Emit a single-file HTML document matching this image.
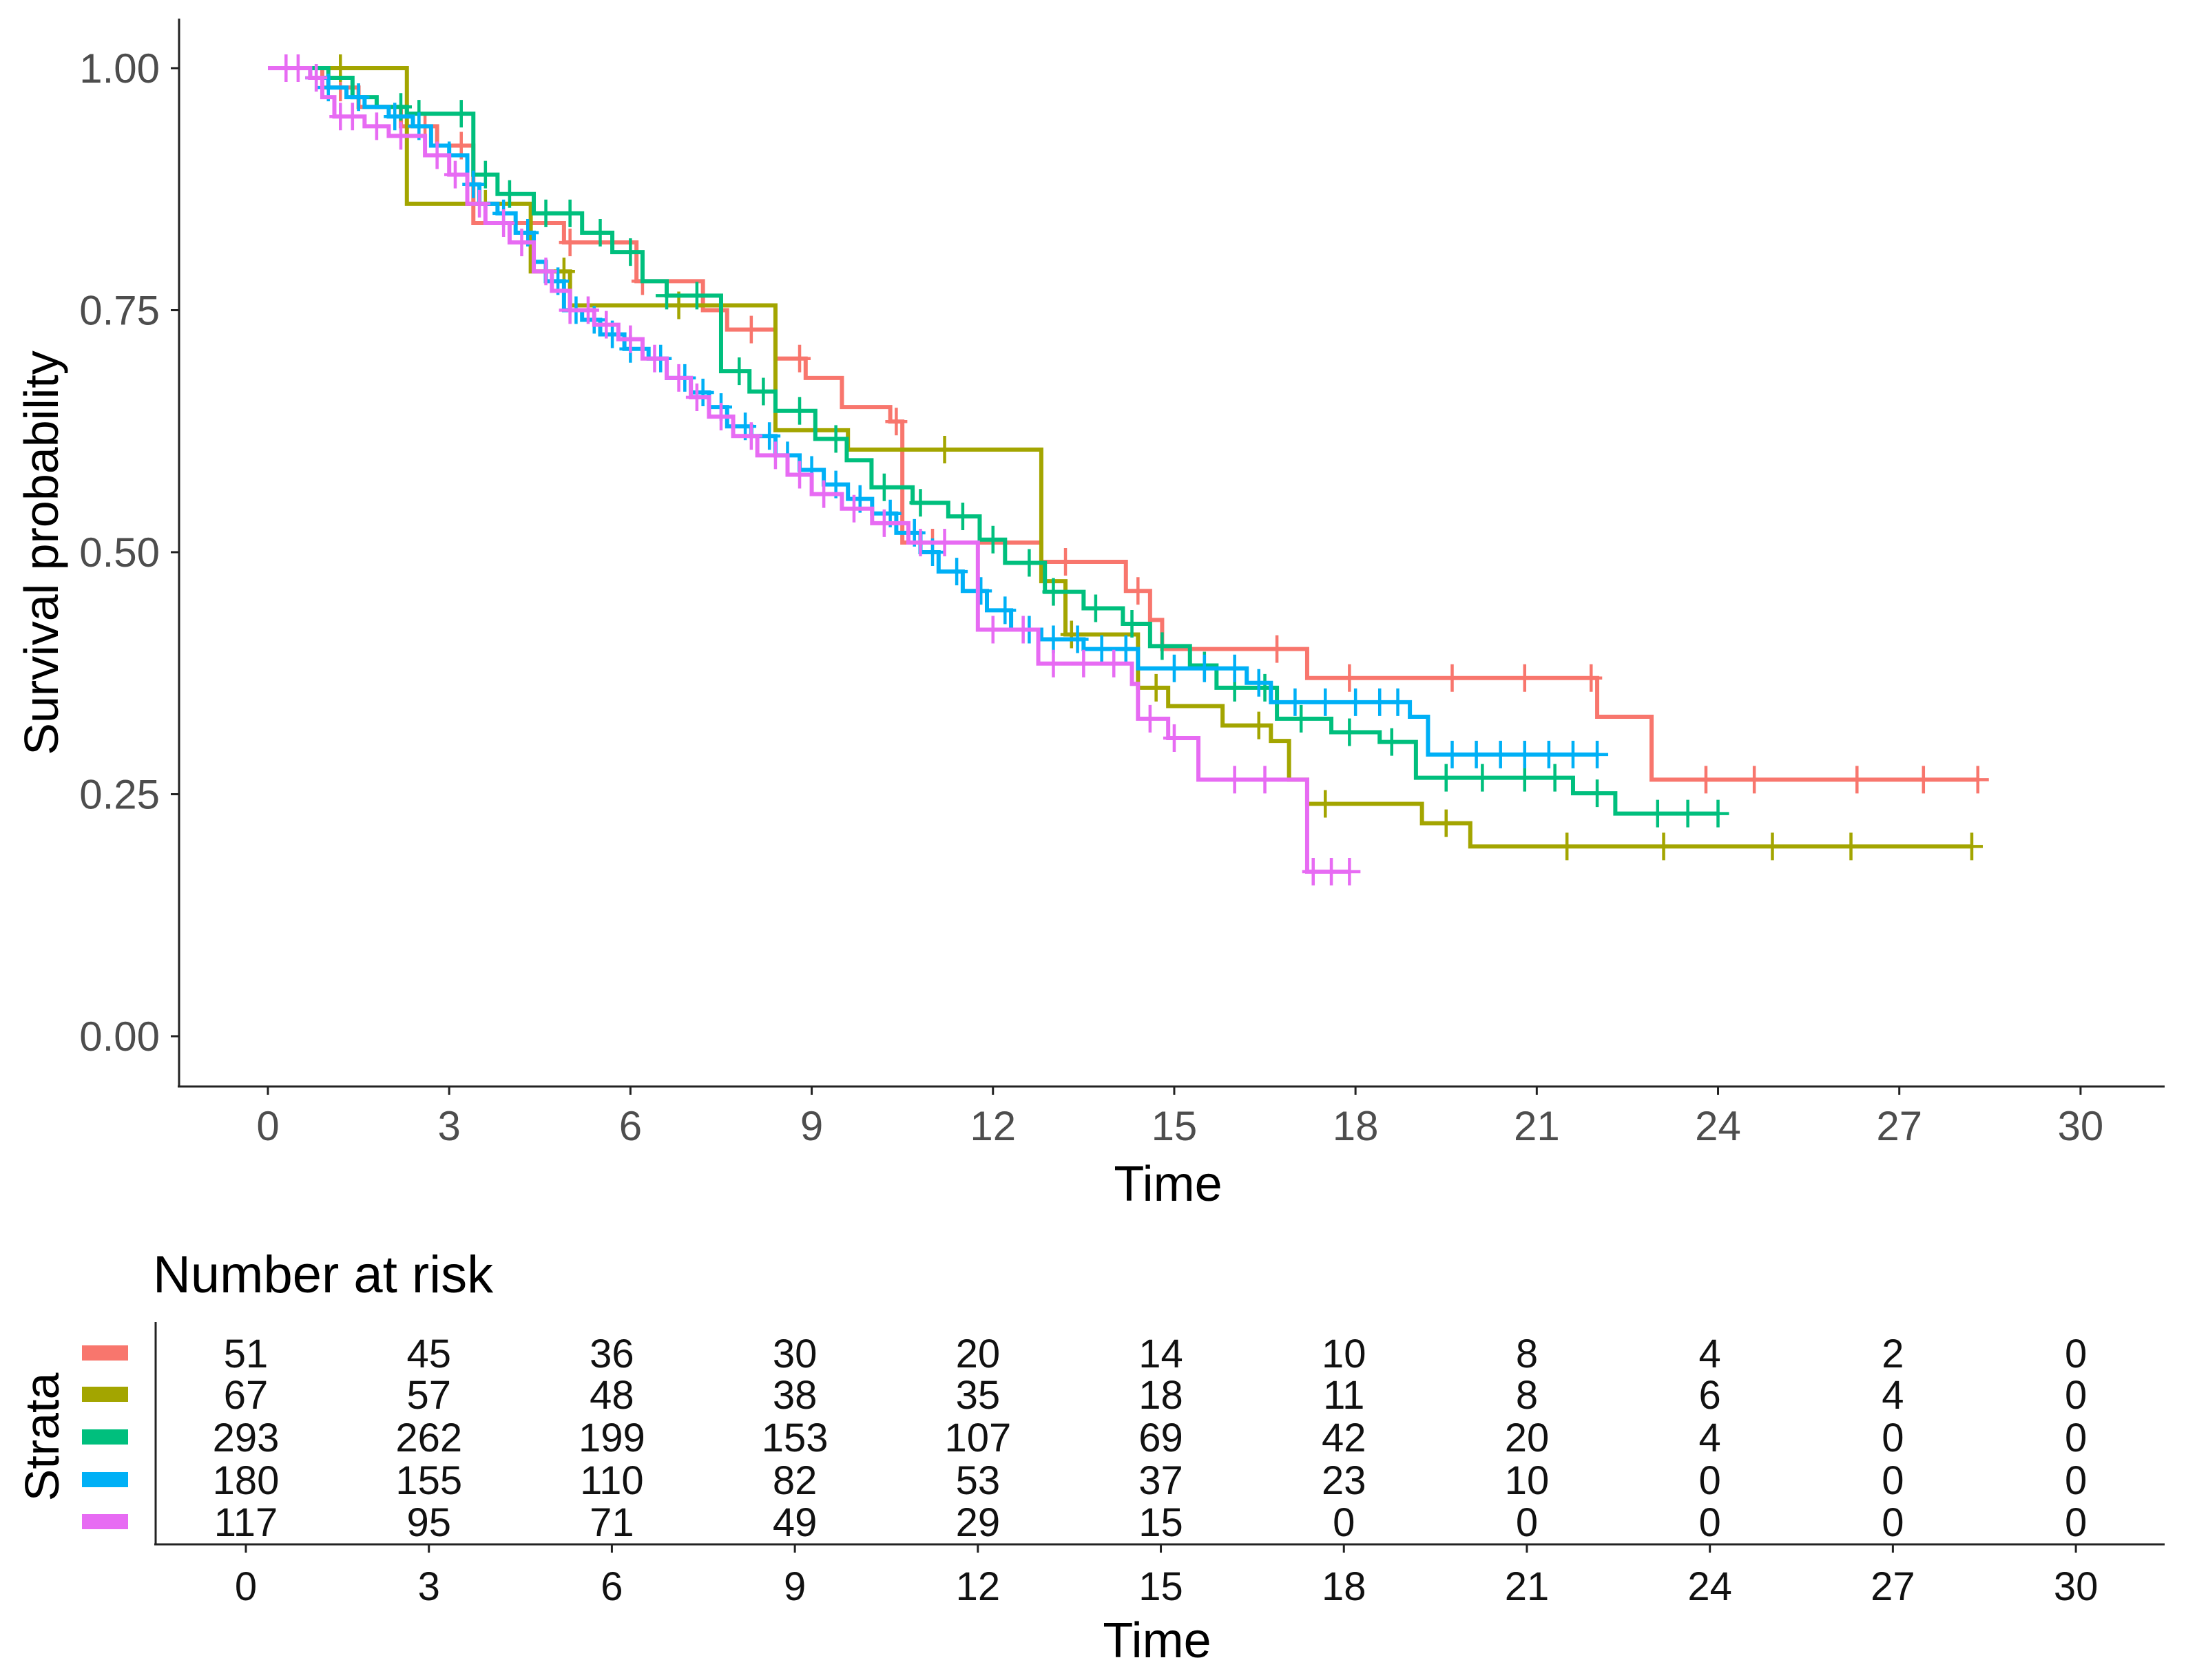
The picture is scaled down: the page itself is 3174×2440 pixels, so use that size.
<!DOCTYPE html>
<html><head><meta charset="utf-8"><style>
html,body{margin:0;padding:0;background:#fff;}
svg{display:block;font-family:"Liberation Sans",Arial,sans-serif;}
</style></head><body>
<svg id="chart" width="3174" height="2440" viewBox="0 0 3174 2440" xmlns="http://www.w3.org/2000/svg">
<rect width="3174" height="2440" fill="#fff"/>
<g id="plot"></g>
<g id="risk"></g>
</svg>
<script>
const colors=["#F8766D","#A3A500","#00BF7D","#00B0F6","#E76BF3"];
const xTicks=[0,3,6,9,12,15,18,21,24,27,30];
const yTicks=[0,0.25,0.5,0.75,1];
const yTickLabels=["0.00","0.25","0.50","0.75","1.00"];
const redTimes=[0,0.9,1.5,2.2,2.8,3.4,4.9,6.1,7.2,7.6,8.4,8.9,9.5,10.3,10.5,12.8,14.2,14.6,14.8,17.2,22.0,22.9];
const redSurv=[1,0.98,0.96,0.94,0.92,0.84,0.82,0.78,0.75,0.73,0.70,0.68,0.65,0.635,0.51,0.49,0.46,0.43,0.40,0.37,0.33,0.265];
const redCensor=[1.2,2.6,3.2,5.0,6.2,8.0,8.8,10.4,11.0,13.2,14.4,16.7,17.9,19.6,20.8,21.9,23.8,24.6,26.3,27.4,28.3];
const oliveTimes=[0,2.3,4.35,5.0,8.4,9.6,12.8,13.2,14.4,14.9,15.8,16.6,16.9,17.2,19.1,19.9];
const oliveSurv=[1,0.86,0.79,0.755,0.626,0.606,0.47,0.415,0.36,0.341,0.321,0.305,0.265,0.24,0.22,0.196];
const oliveCensor=[1.2,3.6,4.9,6.8,11.2,13.3,14.7,16.4,17.5,19.5,21.5,23.1,24.9,26.2,28.2];
const greenTimes=[0,1.0,1.4,1.8,2.3,3.4,3.8,4.4,5.2,5.7,6.2,6.6,7.5,7.97,8.4,9.06,9.58,9.99,10.67,11.26,11.78,12.2,12.86,13.5,14.15,14.6,15.26,15.7,16.7,17.6,18.4,19.0,21.6,22.3];
const greenSurv=[1,0.99,0.97,0.96,0.953,0.89,0.87,0.85,0.83,0.81,0.78,0.765,0.687,0.666,0.646,0.617,0.595,0.567,0.551,0.537,0.513,0.489,0.459,0.442,0.426,0.403,0.383,0.36,0.328,0.314,0.304,0.267,0.251,0.23];
const greenCensor=[1.5,2.2,2.5,3.2,3.6,4.0,4.6,5.0,5.5,6.0,6.6,7.1,7.8,8.2,8.8,9.4,10.2,10.8,11.5,12.0,12.6,13.0,13.7,14.3,14.8,15.5,16.0,16.5,17.1,17.9,18.6,19.5,20.1,20.8,21.3,22.0,23.0,23.5,24.0];
const blueTimes=[0,0.7,1.0,1.3,1.6,2.0,2.4,2.7,3.0,3.3,3.5,3.8,4.1,4.4,4.6,4.9,5.2,5.5,5.9,6.3,6.6,7.0,7.3,7.6,8.0,8.4,8.8,9.2,9.6,10.0,10.4,10.8,11.1,11.5,11.9,12.3,12.8,13.5,14.4,16.2,16.6,18.9,19.2];
const blueSurv=[1,0.99,0.98,0.97,0.96,0.95,0.94,0.92,0.91,0.88,0.86,0.85,0.83,0.80,0.78,0.75,0.74,0.725,0.71,0.70,0.68,0.665,0.65,0.63,0.62,0.60,0.585,0.57,0.555,0.54,0.52,0.50,0.48,0.46,0.44,0.42,0.41,0.40,0.38,0.365,0.345,0.33,0.291];
const blueCensor=[0.8,1.0,1.5,2.1,2.5,3.0,3.4,3.9,4.3,4.8,5.1,5.4,5.7,6.0,6.5,6.9,7.2,7.5,7.9,8.3,8.6,9.0,9.4,9.8,10.3,10.7,11.0,11.4,11.8,12.2,12.6,13.0,13.4,13.8,14.2,15.0,15.5,16.0,16.4,17.0,17.5,18.0,18.4,18.7,19.6,20.0,20.4,20.8,21.2,21.6,22.0];
const pinkTimes=[0,0.7,0.9,1.1,1.6,2.0,2.6,3.0,3.3,3.6,4.0,4.4,4.7,5.0,5.4,5.8,6.2,6.6,7.0,7.3,7.7,8.1,8.6,9.0,9.5,10.0,10.6,11.75,12.75,14.3,14.4,14.9,15.4,17.2];
const pinkSurv=[1,0.99,0.97,0.95,0.94,0.93,0.91,0.89,0.86,0.84,0.82,0.79,0.77,0.75,0.735,0.72,0.70,0.68,0.66,0.64,0.62,0.60,0.58,0.56,0.545,0.53,0.51,0.42,0.385,0.364,0.328,0.308,0.265,0.17];
const pinkCensor=[0.3,0.5,0.8,1.2,1.4,1.8,2.2,2.8,3.1,3.5,3.9,4.2,4.6,5.0,5.3,5.6,6.0,6.4,6.8,7.1,7.5,8.0,8.4,8.8,9.2,9.7,10.2,10.8,11.2,12.0,12.5,13.0,13.5,14.0,14.6,15.0,16.0,16.5,17.3,17.6,17.9];
const seriesNames=["red","olive","green","blue","pink"];
const riskTimes=[0,3,6,9,12,15,18,21,24,27,30];
const riskRed=[51,45,36,30,20,14,10,8,4,2,0];
const riskOlive=[67,57,48,38,35,18,11,8,6,4,0];
const riskGreen=[293,262,199,153,107,69,42,20,4,0,0];
const riskBlue=[180,155,110,82,53,37,23,10,0,0,0];
const riskPink=[117,95,71,49,29,15,0,0,0,0,0];

const NS="http://www.w3.org/2000/svg";
function mk(tag,attrs,parent,text){const e=document.createElementNS(NS,tag);for(const k in attrs)e.setAttribute(k,attrs[k]);if(text!==undefined)e.textContent=text;parent.appendChild(e);return e;}
const X=t=>389+87.73*t;
const Y=p=>1505-1406*p;
const RX=t=>357+88.57*t;
const plot=document.getElementById('plot');
const risk=document.getElementById('risk');
const axisCol="#222", tickCol="#4d4d4d";

let a=mk('line',{x1:260,y1:27,x2:260,y2:1578,stroke:axisCol,'stroke-width':3},plot);

a=mk('line',{x1:258,y1:1578,x2:3143,y2:1578,stroke:axisCol,'stroke-width':3},plot);

yTicks.forEach((v,i)=>{
  const tk=mk('line',{x1:248,y1:Y(v),x2:260,y2:Y(v),stroke:axisCol,'stroke-width':3},plot);
  
  const tl=mk('text',{x:232,y:Y(v)+21,'text-anchor':'end','font-size':60,fill:tickCol},plot,yTickLabels[i]);
  
});
xTicks.forEach(v=>{
  const tk=mk('line',{x1:X(v),y1:1578,x2:X(v),y2:1590,stroke:axisCol,'stroke-width':3},plot);
  
  const tl=mk('text',{x:X(v),y:1656,'text-anchor':'middle','font-size':60,fill:tickCol},plot,String(v));
  
});
let t=mk('text',{x:1696,y:1744,'text-anchor':'middle','font-size':72,fill:'#000'},plot,'Time');

t=mk('text',{x:0,y:0,'text-anchor':'middle','font-size':70,fill:'#000',transform:'translate(84,803) rotate(-90)'},plot,'Survival probability');


const allTimes=[redTimes,oliveTimes,greenTimes,blueTimes,pinkTimes];
const allSurv=[redSurv,oliveSurv,greenSurv,blueSurv,pinkSurv];
const allCens=[redCensor,oliveCensor,greenCensor,blueCensor,pinkCensor];
function survAt(ts,ss,time){let s=1;for(let i=0;i<ts.length;i++){if(ts[i]<=time)s=ss[i];}return s;}
allTimes.forEach((ts,k)=>{
  const ss=allSurv[k], cs=allCens[k];
  const end=Math.max(ts[ts.length-1],cs[cs.length-1]);
  let d="M"+X(ts[0])+","+Y(ss[0]);
  for(let i=1;i<ts.length;i++){d+=" H"+X(ts[i])+" V"+Y(ss[i]);}
  d+=" H"+X(end);
  const p=mk('path',{d:d,fill:'none',stroke:colors[k],'stroke-width':6,'stroke-linejoin':'miter'},plot);
  
  cs.forEach(c=>{
    const cx=X(c), cy=Y(survAt(ts,ss,c));
    const m=mk('path',{d:`M${cx-16},${cy} H${cx+16} M${cx},${cy-20} V${cy+20}`,stroke:colors[k],'stroke-width':4.5,fill:'none'},plot);
    
  });
});

t=mk('text',{x:222,y:1877,'font-size':76,fill:'#000'},risk,'Number at risk');

a=mk('line',{x1:226,y1:1920,x2:226,y2:2243,stroke:axisCol,'stroke-width':3},risk);

a=mk('line',{x1:224,y1:2243,x2:3143,y2:2243,stroke:axisCol,'stroke-width':3},risk);

const rowY=[1965,2025,2087,2149,2210];
const riskRows=[riskRed,riskOlive,riskGreen,riskBlue,riskPink];
riskRows.forEach((row,k)=>{
  const sw=mk('rect',{x:119,y:rowY[k]-11,width:67,height:22,fill:colors[k]},risk);
  
  row.forEach((n,i)=>{
    const tx=mk('text',{x:RX(riskTimes[i]),y:rowY[k]+21,'text-anchor':'middle','font-size':58,fill:'#111'},risk,String(n));
    
  });
});
riskTimes.forEach(v=>{
  const tk=mk('line',{x1:RX(v),y1:2243,x2:RX(v),y2:2255,stroke:axisCol,'stroke-width':3},risk);
  
  const tl=mk('text',{x:RX(v),y:2324,'text-anchor':'middle','font-size':58,fill:'#111'},risk,String(v));
  
});
t=mk('text',{x:1680,y:2407,'text-anchor':'middle','font-size':72,fill:'#000'},risk,'Time');

t=mk('text',{x:0,y:0,'text-anchor':'middle','font-size':70,fill:'#000',transform:'translate(85,2087) rotate(-90)'},risk,'Strata');

</script>
</body></html>
